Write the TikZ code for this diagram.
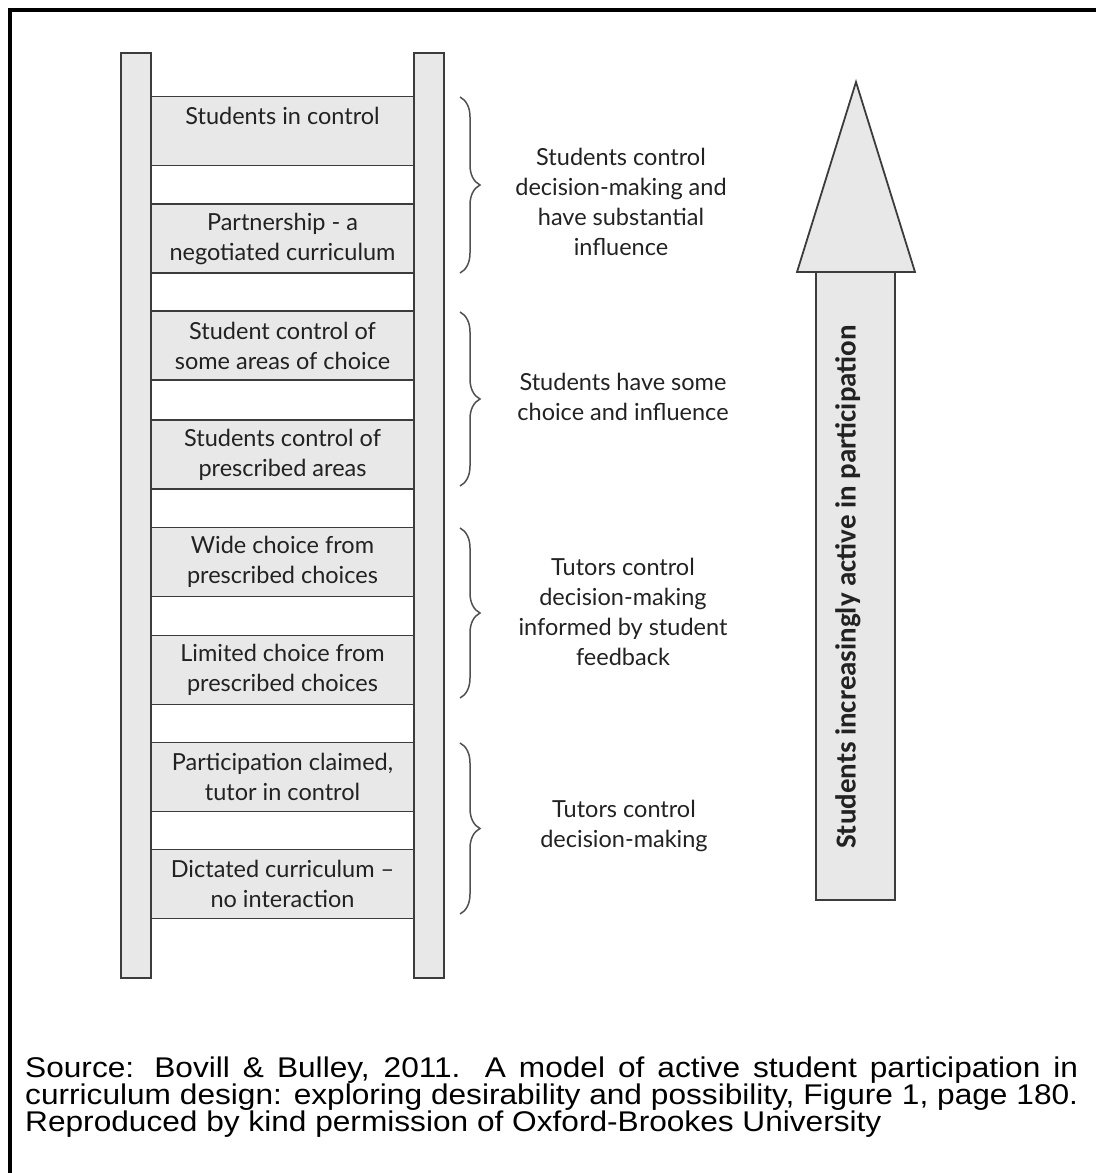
\documentclass[tikz,border=0pt]{standalone}
\usepackage{fontspec}
\setmainfont{Lato}
\newfontfamily\captionfont[FakeStretch=1.11]{Liberation Sans}
\newfontfamily\arrowfont{Carlito}
\usetikzlibrary{decorations.pathreplacing}

\definecolor{ladderfill}{HTML}{E8E8E8}
\definecolor{ladderline}{HTML}{3C3C3C}
\definecolor{bracecol}{HTML}{505050}
\definecolor{inktext}{HTML}{222222}

\begin{document}
\begin{tikzpicture}[x=1pt,y=-1pt,
  part/.style={fill=ladderfill, draw=ladderline, line width=1.8pt},
  rail/.style={part, minimum width=30pt, minimum height=925pt, inner sep=0pt},
  rung/.style={part, minimum width=263pt, minimum height=69pt, inner sep=0pt,
    font=\fontsize{23.5}{30}\selectfont, align=center, text=inktext},
  grouplabel/.style={font=\fontsize{23.5}{30}\selectfont, align=center, text=inktext},
  groupbrace/.style={draw=bracecol, line width=1.5pt, decorate,
    decoration={brace, amplitude=20pt}},
  captext/.style={font=\captionfont\fontsize{28.5}{27}\selectfont, anchor=base west,
    inner sep=0pt, text=black}
]
\useasboundingbox (0,0) rectangle (1096,1173);

% frame (top and left edges)
\draw[line width=4pt] (10,1173) -- (10,10) -- (1096,10);

% ladder rungs
\node[rung] (r1) at (282.5,131)   {Students in control\\~};
\node[rung] (r2) at (282.5,238.5) {Partnership - a\\negotiated curriculum};
\node[rung] (r3) at (282.5,345.5) {Student control of\\some areas of choice};
\node[rung] (r4) at (282.5,454.5) {Students control of\\prescribed areas};
\node[rung] (r5) at (282.5,562)   {Wide choice from\\prescribed choices};
\node[rung] (r6) at (282.5,670)   {Limited choice from\\prescribed choices};
\node[rung] (r7) at (282.5,777)   {Participation claimed,\\tutor in control};
\node[rung] (r8) at (282.5,884)   {Dictated curriculum --\\no interaction};

% ladder rails
\node[rail] (railL) at (136,515.5) {};
\node[rail] (railR) at (429,515.5) {};

% braces grouping the rungs
\coordinate (b1t) at (460,97);  \coordinate (b1b) at (460,273);
\coordinate (b2t) at (460,312); \coordinate (b2b) at (460,486);
\coordinate (b3t) at (460,528); \coordinate (b3b) at (460,698);
\coordinate (b4t) at (460,743); \coordinate (b4b) at (460,914);
\draw[groupbrace] (b1t) -- (b1b);
\draw[groupbrace] (b2t) -- (b2b);
\draw[groupbrace] (b3t) -- (b3b);
\draw[groupbrace] (b4t) -- (b4b);

\node[grouplabel] (g1) at (621,202) {Students control\\decision-making and\\have substantial\\influence};
\node[grouplabel] (g2) at (623,397) {Students have some\\choice and influence};
\node[grouplabel] (g3) at (623,612) {Tutors control\\decision-making\\informed by student\\feedback};
\node[grouplabel] (g4) at (624,826) {Tutors control\\decision-making};

% upward arrow
\draw[part] (856,82) -- (915,272) -- (797,272) -- cycle;
\draw[part] (816,272) rectangle (895,900);
\node[rotate=90, font=\arrowfont\bfseries\fontsize{29}{34}\selectfont, text=inktext]
  (arrowlabel) at (848,587) {Students increasingly active in participation};

% source note
\node[captext] (cap1) at (25,1077)
  {\makebox[1053pt][s]{Source: Bovill \& Bulley, 2011. A model of active student participation in}};
\node[captext] (cap2) at (25,1104.3)
  {\makebox[1053pt][s]{curriculum design: exploring desirability and possibility, Figure 1, page 180.}};
\node[captext] (cap3) at (25,1131.5)
  {Reproduced by kind permission of Oxford-Brookes University};
\end{tikzpicture}
\end{document}
